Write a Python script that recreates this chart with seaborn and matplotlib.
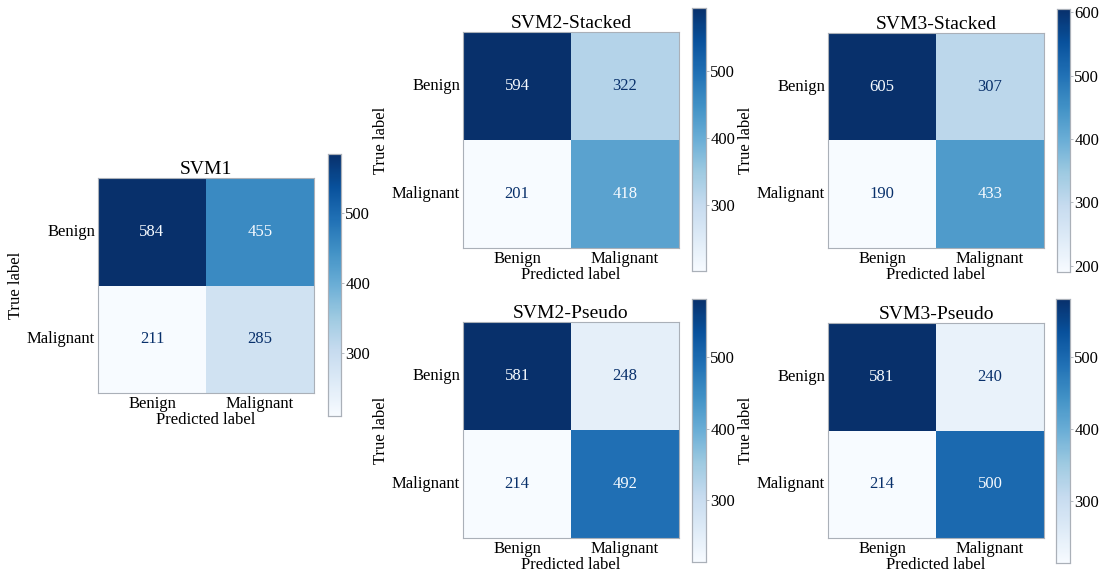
import numpy as np
import matplotlib
matplotlib.use("Agg")
import matplotlib.pyplot as plt
import seaborn as sns

# Confusion-matrix counts (rows: true label, cols: predicted label)
class_names = ["Benign", "Malignant"]
titles = ["SVM1", "SVM2-Stacked", "SVM3-Stacked", "SVM2-Pseudo", "SVM3-Pseudo"]
svm1 = [[584, 455], [211, 285]]
svm2_stacked = [[594, 322], [201, 418]]
svm3_stacked = [[605, 307], [190, 433]]
svm2_pseudo = [[581, 248], [214, 492]]
svm3_pseudo = [[581, 240], [214, 500]]
matrices = [svm1, svm2_stacked, svm3_stacked, svm2_pseudo, svm3_pseudo]

sns.set_style("white")
plt.rcParams["font.family"] = ["Liberation Serif", "DejaVu Serif"]
for key in ("text.color", "axes.labelcolor", "xtick.color", "ytick.color"):
    plt.rcParams[key] = "black"

W, H = 1104, 573
fig = plt.figure(figsize=(W / 100, H / 100), dpi=100)


def frac(l, t, r, b):
    return [l / W, 1 - b / H, (r - l) / W, (b - t) / H]


# Pixel boxes (left, top, right, bottom) for each heatmap and its colorbar
ax_boxes = [(98, 178, 314, 393), (463, 32, 679, 248), (828, 33, 1044, 248),
            (463, 322, 679, 538), (828, 323, 1044, 538)]
cax_boxes = [(328, 154, 341, 416), (692, 8, 706, 271), (1057, 9, 1070, 272),
             (692, 299, 706, 562), (1056, 299, 1070, 563)]

cmap = plt.get_cmap("Blues")
edge = "#aab0b8"

for title, mat, abox, cbox in zip(titles, matrices, ax_boxes, cax_boxes):
    data = np.array(mat)
    ax = fig.add_axes(frac(*abox))
    cax = fig.add_axes(frac(*cbox))
    sns.heatmap(data, ax=ax, cbar_ax=cax, cmap="Blues", annot=True, fmt="d",
                annot_kws={"fontsize": 12},
                xticklabels=class_names, yticklabels=class_names)
    # light text on dark cells, dark text on light cells
    thresh = (data.max() + data.min()) / 2.0
    for txt, v in zip(ax.texts, data.flatten()):
        txt.set_color(cmap(0.0) if v > thresh else cmap(1.0))
    ax.set_title(title, fontsize=14, pad=3)
    ax.set_xlabel("Predicted label", fontsize=12, labelpad=0)
    ax.set_ylabel("True label", fontsize=12, labelpad=2)
    ax.tick_params(axis="both", length=0, pad=2, labelsize=12, labelcolor="black")
    plt.setp(ax.get_yticklabels(), rotation=0, va="center")
    plt.setp(ax.get_xticklabels(), rotation=0)
    for s in ax.spines.values():
        s.set_visible(True)
        s.set_color(edge)
        s.set_linewidth(0.8)
    cax.tick_params(labelsize=12, length=2, width=0.6, color=edge, pad=1,
                    labelcolor="black")
    cax.yaxis.set_major_locator(matplotlib.ticker.MaxNLocator(nbins=5, steps=[1, 2, 5, 10]))
    for s in cax.spines.values():
        s.set_visible(True)
        s.set_color(edge)
        s.set_linewidth(0.8)

fig.savefig("out.png", dpi=100, facecolor="white")
